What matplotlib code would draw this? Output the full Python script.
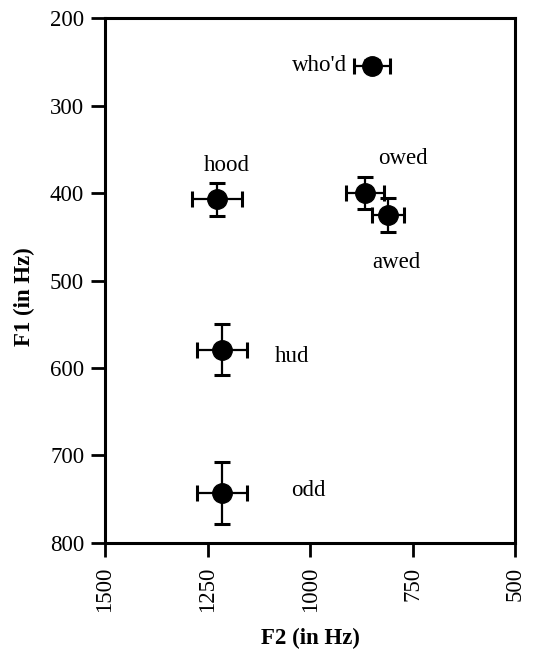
import numpy as np
import matplotlib.pyplot as plt

plt.rcParams['font.family'] = ['Liberation Serif', 'DejaVu Serif']

# Vowel formant means (Hz) and error bars
words = ["who'd", 'hood', 'owed', 'awed', 'hud', 'odd']
f2 = [849, 1227, 866, 810, 1215, 1215]
f1 = [254, 407, 400, 425, 579, 743]
f2_err = [44, 62, 46, 39, 60, 61]
f1_err = [6, 19, 18, 20, 29, 36]

# label placement (offset in points, alignment)
label_offsets = {"who'd": (-18, 0, 'right'), 'hood': (7, 24, 'center'),
                 'owed': (27, 25, 'center'), 'awed': (6, -34, 'center'),
                 'hud': (38, -5, 'left'), 'odd': (50, 2, 'left')}

fig = plt.figure(figsize=(5.44, 6.54), dpi=100)
ax = fig.add_axes([0.193, 0.170, 0.754, 0.802])

ax.errorbar(f2, f1, xerr=f2_err, yerr=f1_err, fmt='o', color='black',
            markersize=14, elinewidth=1.6, capsize=6, capthick=2.2)

for w, x, y in zip(words, f2, f1):
    dx, dy, ha = label_offsets[w]
    ax.annotate(w, xy=(x, y), xytext=(dx, dy), textcoords='offset points',
                ha=ha, va='center', fontsize=16.5)

ax.set_xlim(1500, 500)
ax.set_ylim(800, 200)
ax.set_xticks([1500, 1250, 1000, 750, 500])
ax.set_xticklabels(['1500', '1250', '1000', '750', '500'], rotation=90)
ax.set_yticks([200, 300, 400, 500, 600, 700, 800])

ax.tick_params(axis='both', direction='out', length=10, width=2, labelsize=16.5)
ax.tick_params(axis='y', pad=5)
ax.tick_params(axis='x', pad=7)
for s in ax.spines.values():
    s.set_linewidth(2.2)

ax.set_xlabel('F2 (in Hz)', fontsize=16.5, fontweight='bold')
ax.xaxis.set_label_coords(0.5, -0.163)
ax.set_ylabel('F1 (in Hz)', fontsize=16.5, fontweight='bold')
ax.yaxis.set_label_coords(-0.17, 0.47)

fig.savefig('out.png', dpi=100)
plt.close(fig)
